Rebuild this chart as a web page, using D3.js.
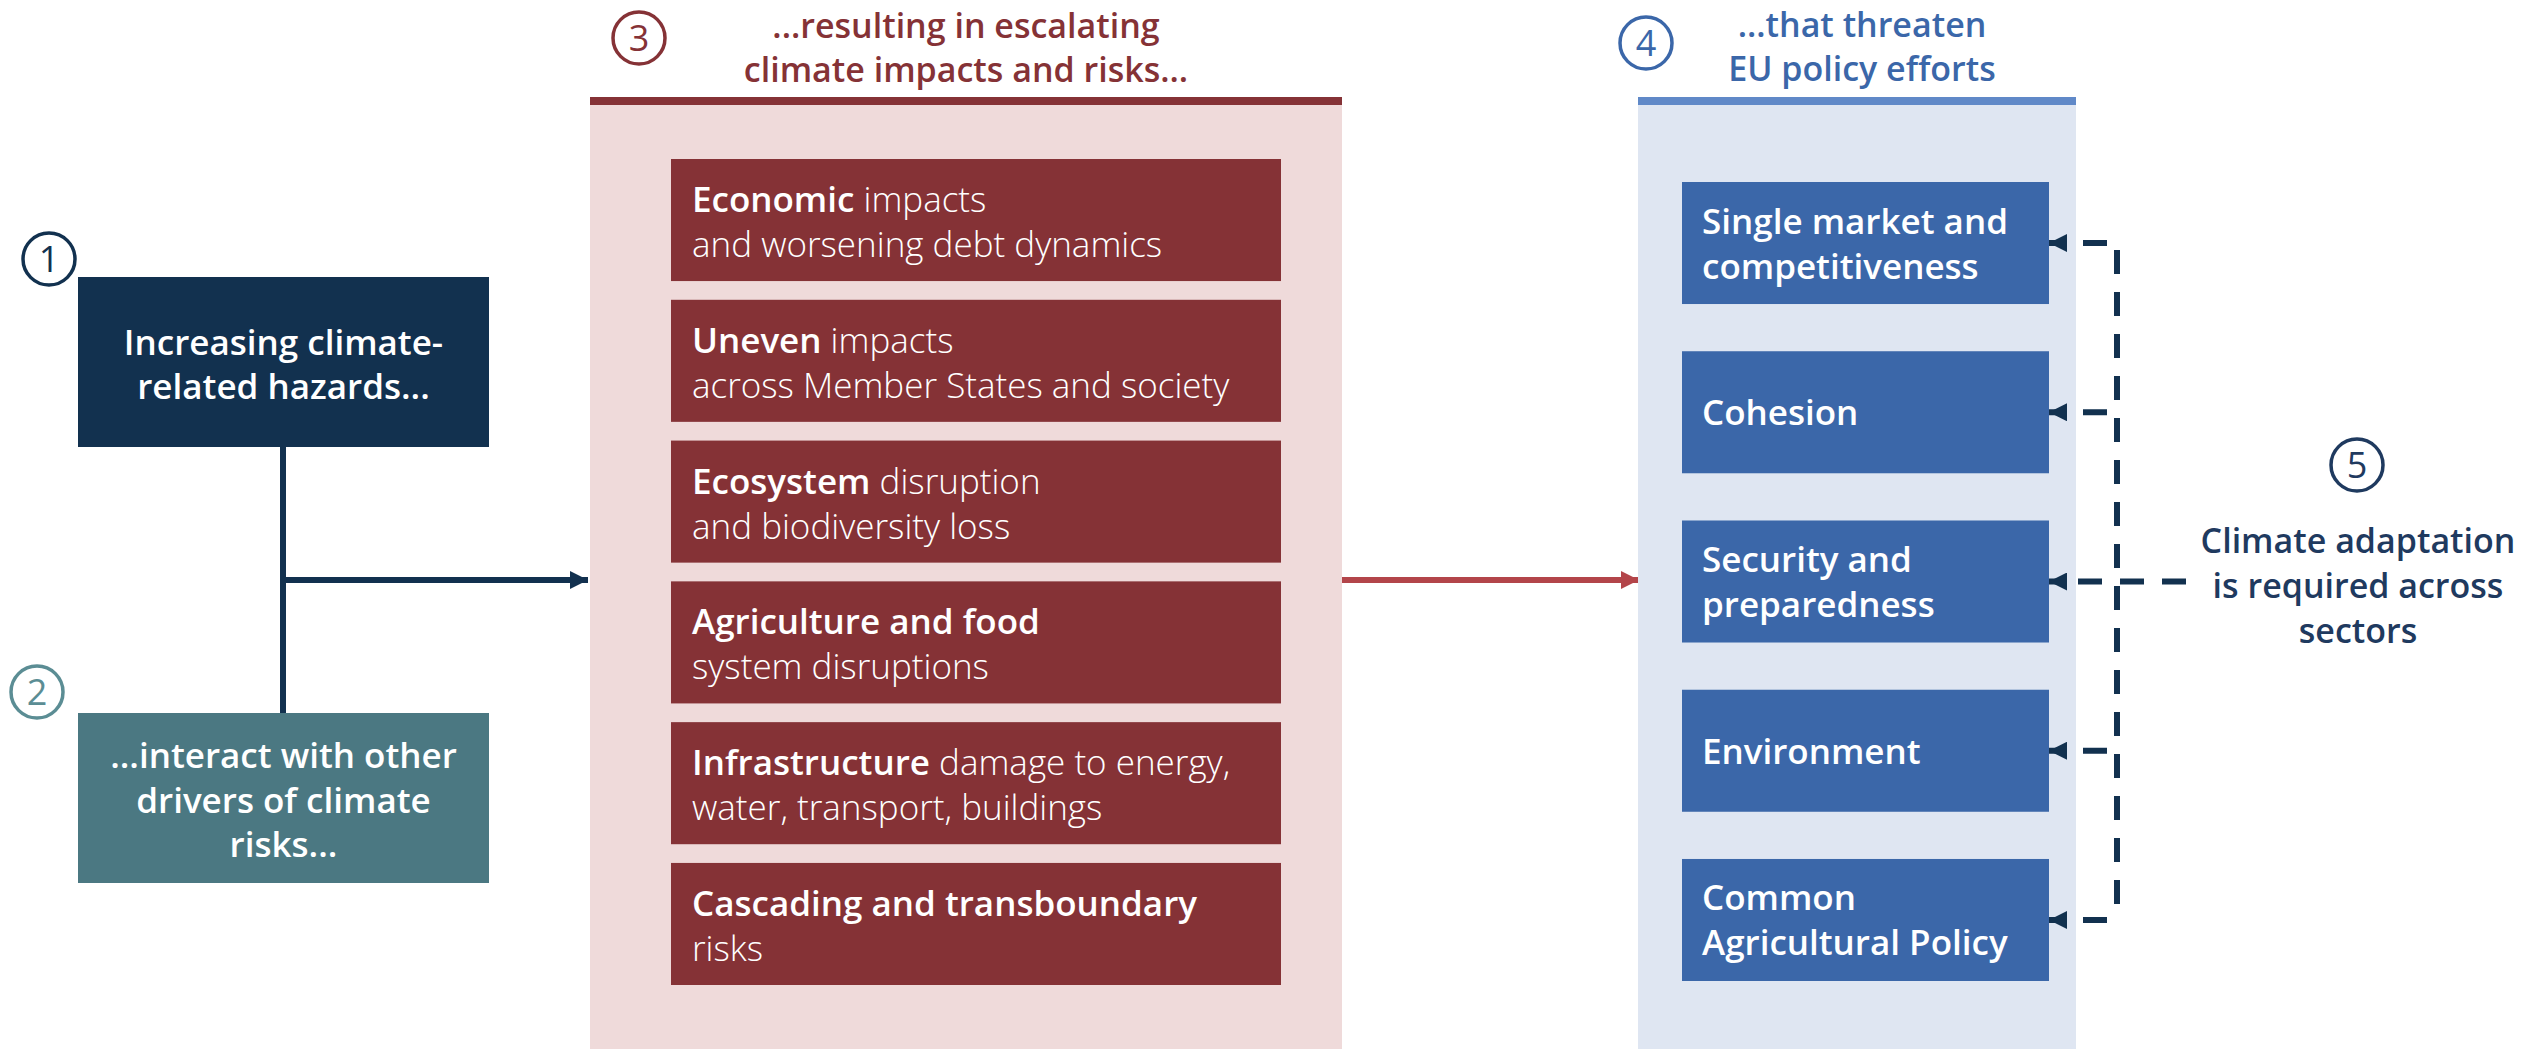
<!DOCTYPE html>
<html>
<head>
<meta charset="utf-8">
<script src="https://cdn.jsdelivr.net/npm/d3@7"></script>
<style>
  body { margin: 0; background: #fff; }
  svg { display: block; font-family: "Open Sans", "Noto Sans", sans-serif; }
</style>
</head>
<body>
<div id="diagram"></div>
<script>
// diagram content
var driverLines = [["Increasing climate-", "related hazards..."],
                   ["...interact with other", "drivers of climate", "risks..."]];
var impactTitle = ["...resulting in escalating", "climate impacts and risks..."];
var impactHeads = ["Economic", "Uneven", "Ecosystem", "Agriculture and food", "Infrastructure", "Cascading and transboundary"];
var impactTails = [" impacts", " impacts", " disruption", "", " damage to energy,", ""];
var impactLine2 = ["and worsening debt dynamics", "across Member States and society", "and biodiversity loss",
                   "system disruptions", "water, transport, buildings", "risks"];
var policyTitle = ["...that threaten", "EU policy efforts"];
var policies = [["Single market and", "competitiveness"], ["Cohesion"], ["Security and", "preparedness"],
                ["Environment"], ["Common", "Agricultural Policy"]];
var adaptLines = ["Climate adaptation", "is required across", "sectors"];

var W = 2542, H = 1049;
var navy = "#12314f", teal = "#4b7882", wine = "#853236", blue = "#3b67a9";

var svg = d3.select("#diagram")
  .append("svg")
    .attr("width", W)
    .attr("height", H);

var defs = svg.append("defs");
function marker(id, color, len, half) {
  defs.append("marker")
    .attr("id", id)
    .attr("viewBox", "0 0 " + len + " " + (2 * half))
    .attr("refX", len).attr("refY", half)
    .attr("markerUnits", "userSpaceOnUse")
    .attr("markerWidth", len).attr("markerHeight", 2 * half)
    .attr("orient", "auto")
    .append("path")
      .attr("d", "M0,0 L" + len + "," + half + " L0," + (2 * half) + "Z")
      .attr("fill", color);
}
marker("arrow-navy", navy, 18, 9);
marker("arrow-red", "#b3454a", 18, 9);

// numbered circles
function badge(cx, cy, n, color) {
  svg.append("circle")
    .attr("cx", cx).attr("cy", cy).attr("r", 26)
    .attr("fill", "none")
    .attr("stroke", color)
    .attr("stroke-width", 3.5);
  svg.append("text")
    .attr("x", cx).attr("y", cy + 13)
    .attr("text-anchor", "middle")
    .attr("font-size", 36)
    .attr("fill", color)
    .text(n);
}

// multi-line centred text
function lines(x, cy, arr, size, gap, color, weight) {
  var t = svg.append("text")
    .attr("text-anchor", "middle")
    .attr("font-size", size)
    .attr("font-weight", weight)
    .attr("fill", color);
  arr.forEach(function(s, i) {
    t.append("tspan")
      .attr("x", x)
      .attr("y", cy - (arr.length - 1) * gap / 2 + size * 0.37 + i * gap)
      .text(s);
  });
  return t;
}

// ---- column 1 : drivers
var drvY = d3.scaleBand().domain([0, 1]).range([277, 883]).paddingInner(266 / 436);
var drvX = {x0: 78, x1: 489};
var drvFill = [navy, teal];

// connector
svg.append("line")
  .attr("x1", 283).attr("x2", 283)
  .attr("y1", drvY(0) + drvY.bandwidth()).attr("y2", drvY(1))
  .attr("stroke", navy).attr("stroke-width", 6);
svg.append("line")
  .attr("x1", 283).attr("x2", 588)
  .attr("y1", 580).attr("y2", 580)
  .attr("stroke", navy).attr("stroke-width", 6)
  .attr("marker-end", "url(#arrow-navy)");

driverLines.forEach(function(arr, i) {
  svg.append("rect")
    .attr("x", drvX.x0).attr("y", drvY(i))
    .attr("width", drvX.x1 - drvX.x0).attr("height", drvY.bandwidth())
    .attr("fill", drvFill[i]);
  lines((drvX.x0 + drvX.x1) / 2, drvY(i) + drvY.bandwidth() / 2 + 2, arr, 35, 44.5, "#fff", 600);
});
badge(49, 259, "1", navy);
badge(37, 692, "2", "#5b8d94");

// ---- column 2 : impacts
var impX0 = 590, impX1 = 1342;
svg.append("rect")
  .attr("x", impX0).attr("y", 105)
  .attr("width", impX1 - impX0).attr("height", H - 105)
  .attr("fill", "#efdada");
svg.append("rect")
  .attr("x", impX0).attr("y", 97)
  .attr("width", impX1 - impX0).attr("height", 8)
  .attr("fill", wine);
lines((impX0 + impX1) / 2, 47, impactTitle, 34, 44, wine, 600);
badge(639, 38, "3", wine);

var impY = d3.scaleBand().domain(d3.range(impactHeads.length)).range([159, 985]).paddingInner(0.133);
var impBox = svg.selectAll(".impact")
  .data(impactHeads)
  .enter().append("g")
    .attr("class", "impact")
    .attr("transform", function(d, i) { return "translate(671," + impY(i) + ")"; });
impBox.append("rect")
  .attr("width", 1281 - 671)
  .attr("height", impY.bandwidth())
  .attr("fill", wine);
var impText = impBox.append("text")
  .attr("fill", "#fff")
  .attr("font-size", 35);
impText.append("tspan")
  .attr("x", 21).attr("y", 53)
  .attr("font-weight", 600)
  .text(function(d) { return d; });
impText.append("tspan")
  .attr("font-weight", 300)
  .text(function(d, i) { return impactTails[i]; });
impText.append("tspan")
  .attr("x", 21).attr("y", 98)
  .attr("font-weight", 300)
  .text(function(d, i) { return impactLine2[i]; });

// red arrow
svg.append("line")
  .attr("x1", impX1).attr("x2", 1639)
  .attr("y1", 580).attr("y2", 580)
  .attr("stroke", "#b3454a").attr("stroke-width", 6)
  .attr("marker-end", "url(#arrow-red)");

// ---- column 3 : policies
var polX0 = 1638, polX1 = 2076;
svg.append("rect")
  .attr("x", polX0).attr("y", 105)
  .attr("width", polX1 - polX0).attr("height", H - 105)
  .attr("fill", "#dfe6f2");
svg.append("rect")
  .attr("x", polX0).attr("y", 97)
  .attr("width", polX1 - polX0).attr("height", 8)
  .attr("fill", "#6089c8");
lines(1862, 46, policyTitle, 34, 44, blue, 600);
badge(1646, 43, "4", blue);

var polY = d3.scaleBand().domain(d3.range(policies.length)).range([182, 981]).paddingInner(0.279);
var polBox = svg.selectAll(".policy")
  .data(policies)
  .enter().append("g")
    .attr("class", "policy")
    .attr("transform", function(d, i) { return "translate(1682," + polY(i) + ")"; });
polBox.append("rect")
  .attr("width", 2049 - 1682)
  .attr("height", polY.bandwidth())
  .attr("fill", blue);
polBox.append("text")
  .attr("fill", "#fff")
  .attr("font-size", 35)
  .attr("font-weight", 600)
  .selectAll("tspan")
  .data(function(d) { return d.map(function(s, j) { return {s: s, j: j, n: d.length}; }); })
  .enter().append("tspan")
    .attr("x", 20)
    .attr("y", function(d) { return polY.bandwidth() / 2 - (d.n - 1) * 22.5 + 13 + d.j * 45; })
    .text(function(d) { return d.s; });

// ---- adaptation connectors (dashed)
var dash = "24,18";
var vx = 2117;
var firstC = polY(0) + polY.bandwidth() / 2,
    lastC = polY(policies.length - 1) + polY.bandwidth() / 2;
svg.append("line")
  .attr("x1", vx).attr("x2", vx)
  .attr("y1", firstC + 7).attr("y2", lastC)
  .attr("stroke", navy).attr("stroke-width", 6)
  .attr("stroke-dasharray", dash);
policies.forEach(function(p, i) {
  var cy = polY(i) + polY.bandwidth() / 2;
  var start = (i === 2) ? 2186 : 2107;
  svg.append("line")
    .attr("x1", start).attr("x2", 2049)
    .attr("y1", cy).attr("y2", cy)
    .attr("stroke", navy).attr("stroke-width", 6)
    .attr("stroke-dasharray", dash)
    .attr("marker-end", "url(#arrow-navy)");
});

badge(2357, 465, "5", "#1f3a5f");
lines(2358, 585, adaptLines, 34, 45, "#1f3a5f", 600);
</script>
</body>
</html>
